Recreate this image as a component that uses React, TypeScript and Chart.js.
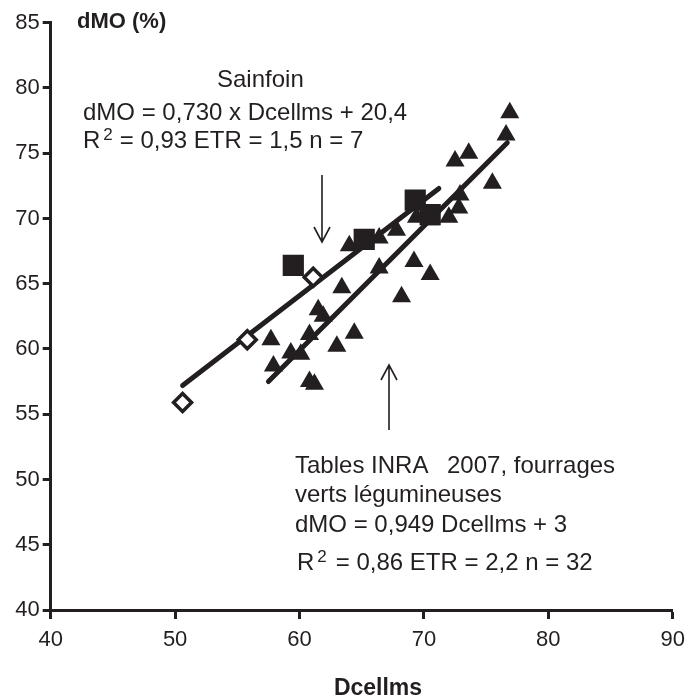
import React, { useEffect, useRef } from 'react';
import { Chart, registerables } from 'chart.js';

Chart.register(...registerables);

// ---- data ----
const xTicks = [40, 50, 60, 70, 80, 90];
const yTicks = [40, 45, 50, 55, 60, 65, 70, 75, 80, 85];

// Tables INRA 2007 (triangles)
const inraX = [57.7, 57.9, 59.3, 60.1, 60.8, 61.2, 60.8, 61.5, 61.9, 63.0, 63.4, 64.4, 64.0, 66.4, 66.4, 67.8, 68.2, 69.2, 70.5, 69.4, 70.5, 72.0, 72.8, 72.9, 72.5, 73.6, 75.5, 76.6, 76.9];
const inraY = [60.7, 58.7, 59.7, 59.6, 57.5, 57.3, 61.1, 63.0, 62.5, 60.2, 64.7, 61.2, 67.9, 68.5, 66.2, 69.1, 64.0, 66.7, 65.7, 70.1, 69.9, 70.1, 70.8, 71.8, 74.4, 75.0, 72.7, 76.4, 78.1];

// Sainfoin (filled squares)
const sainfoinSqX = [59.5, 65.2, 69.3, 70.5];
const sainfoinSqY = [66.4, 68.4, 71.4, 70.3];

// Sainfoin (open diamonds)
const sainfoinDiaX = [50.6, 55.8, 61.1];
const sainfoinDiaY = [55.9, 60.7, 65.5];

// Regression lines (end points)
const sainfoinFitX = [50.6, 71.2];
const sainfoinFitY = [57.2, 72.3];
const inraFitX = [57.5, 76.7];
const inraFitY = [57.5, 75.8];

const INK = '#231f20';
const FONT = '"Liberation Sans", Arial, Helvetica, sans-serif';

const pts = (xs: number[], ys: number[]) => xs.map((x, i) => ({ x, y: ys[i] }));

const annotations = {
  id: 'annotations',
  afterDraw(chart: any) {
    const ctx = chart.ctx as CanvasRenderingContext2D;
    ctx.save();
    ctx.fillStyle = INK;
    ctx.strokeStyle = INK;
    ctx.textBaseline = 'alphabetic';
    ctx.textAlign = 'left';

    // axis titles
    ctx.font = `bold 22px ${FONT}`;
    ctx.fillText('dMO (%)', 77, 28);
    ctx.font = `bold 23px ${FONT}`;
    ctx.textAlign = 'center';
    ctx.fillText('Dcellms', 378, 695);
    ctx.textAlign = 'left';

    const body = `24px ${FONT}`;
    const r2 = (x: number, y: number, rest: string, gap: number) => {
      ctx.font = body;
      ctx.fillText('R', x, y);
      const rw = ctx.measureText('R').width;
      ctx.font = `17px ${FONT}`;
      ctx.fillText('2', x + rw + 3, y - 8);
      const w2 = ctx.measureText('2').width;
      ctx.font = body;
      ctx.fillText(rest, x + rw + 3 + w2 + gap, y);
    };

    ctx.font = body;
    ctx.fillText('Sainfoin', 217, 87);
    ctx.fillText('dMO = 0,730 x Dcellms + 20,4', 83, 120);
    r2(83, 148, '= 0,93 ETR = 1,5 n = 7', 7);

    ctx.font = body;
    ctx.fillText('Tables INRA', 295, 473);
    ctx.fillText('2007, fourrages', 447, 473);
    ctx.fillText('verts légumineuses', 295, 502);
    ctx.fillText('dMO = 0,949 Dcellms + 3', 295, 532);
    r2(297, 570, '= 0,86 ETR = 2,2 n = 32', 9);

    // arrows
    ctx.lineWidth = 1.6;
    const arrow = (x: number, y0: number, y1: number) => {
      const dir = y1 > y0 ? 1 : -1;
      ctx.beginPath();
      ctx.moveTo(x, y0);
      ctx.lineTo(x, y1);
      ctx.moveTo(x - 8, y1 - dir * 15);
      ctx.lineTo(x, y1);
      ctx.lineTo(x + 8, y1 - dir * 15);
      ctx.stroke();
    };
    arrow(322, 175, 242);
    arrow(389, 430, 365);
    ctx.restore();
  },
};

export default function App() {
  const ref = useRef<HTMLCanvasElement | null>(null);

  useEffect(() => {
    if (!ref.current) return;
    const chart = new Chart(ref.current, {
      type: 'scatter',
      data: {
        datasets: [
          {
            type: 'line',
            label: 'Sainfoin fit',
            data: pts(sainfoinFitX, sainfoinFitY),
            borderColor: INK,
            borderWidth: 5,
            borderCapStyle: 'round',
            pointRadius: 0,
            fill: false,
            order: 10,
          } as any,
          {
            type: 'line',
            label: 'INRA fit',
            data: pts(inraFitX, inraFitY),
            borderColor: INK,
            borderWidth: 5,
            borderCapStyle: 'round',
            pointRadius: 0,
            fill: false,
            order: 11,
          } as any,
          {
            label: 'Tables INRA 2007',
            data: pts(inraX, inraY),
            pointStyle: 'triangle',
            pointRadius: 11,
            backgroundColor: INK,
            borderColor: INK,
            borderWidth: 0,
            order: 3,
          },
          {
            label: 'Sainfoin squares',
            data: pts(sainfoinSqX, sainfoinSqY),
            pointStyle: 'rect',
            pointRadius: 15,
            backgroundColor: INK,
            borderColor: INK,
            borderWidth: 0,
            order: 2,
          },
          {
            label: 'Sainfoin diamonds',
            data: pts(sainfoinDiaX, sainfoinDiaY),
            pointStyle: 'rectRot',
            pointRadius: 9,
            backgroundColor: '#ffffff',
            borderColor: INK,
            borderWidth: 3.5,
            order: 1,
          },
        ],
      },
      options: {
        animation: false,
        responsive: false,
        events: [],
        layout: { padding: { left: 0, right: 14.7, top: 22.7, bottom: 0 } },
        plugins: { legend: { display: false }, tooltip: { enabled: false }, title: { display: false } },
        scales: {
          x: {
            type: 'linear',
            min: xTicks[0],
            max: xTicks[xTicks.length - 1],
            afterBuildTicks: (s: any) => { s.ticks = xTicks.map((v) => ({ value: v })); },
            afterFit: (s: any) => { s.height = 89; },
            grid: { drawOnChartArea: false, drawTicks: true, tickLength: 9, tickWidth: 3, tickColor: INK },
            border: { display: true, width: 3, color: INK },
            ticks: { color: INK, padding: 8, font: { family: FONT, size: 22 } },
          },
          y: {
            type: 'linear',
            min: yTicks[0],
            max: yTicks[yTicks.length - 1],
            afterBuildTicks: (s: any) => { s.ticks = yTicks.map((v) => ({ value: v })); },
            afterFit: (s: any) => { s.width = 50.7; },
            grid: { drawOnChartArea: false, drawTicks: true, tickLength: 8, tickWidth: 3, tickColor: INK },
            border: { display: true, width: 3, color: INK },
            ticks: { color: INK, padding: 3, font: { family: FONT, size: 22 } },
          },
        },
      },
      plugins: [annotations],
    });
    return () => chart.destroy();
  }, []);

  return (
    <div style={{ position: 'fixed', left: 0, top: 0, width: 693, height: 699, background: '#fff' }}>
      <canvas ref={ref} width={693} height={699} style={{ width: 693, height: 699, display: 'block' }} />
    </div>
  );
}
